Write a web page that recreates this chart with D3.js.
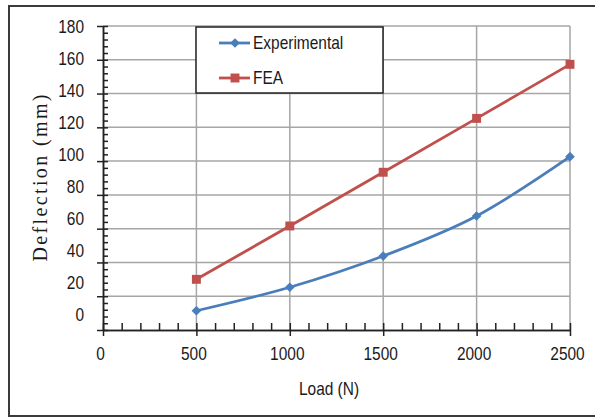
<!DOCTYPE html>
<html>
<head>
<meta charset="utf-8">
<script src="https://cdn.jsdelivr.net/npm/d3@7"></script>
<style>
  body { margin: 0; background: #fff; }
  svg { display: block; }
  .lbl { font-family: "Liberation Sans Narrow", "Arial Narrow", "Liberation Sans", sans-serif; font-size: 18px; fill: #1a1a1a; }
</style>
</head>
<body>
<div id="chart"><svg></svg></div>
<script>
// data
var loads = [500, 1000, 1500, 2000, 2500];
var experimental = [11.4, 25.3, 43.8, 67.5, 102.6];
var fea = [30.0, 61.6, 93.4, 125.3, 157.3];
var seriesNames = ['Experimental', 'FEA'];
var xTicks = [0, 500, 1000, 1500, 2000, 2500];
var yTicks = [0, 20, 40, 60, 80, 100, 120, 140, 160, 180];

var W = 595, H = 417;
var svg = d3.select('#chart').select('svg').attr('width', W).attr('height', H);

var plot = { left: 103, right: 570, top: 26, bottom: 330 };
var squeeze = 0.86; // the labels use a narrow face

var x = d3.scaleLinear().domain([0, 2500]).range([plot.left, plot.right]);
var y = d3.scaleLinear().domain([0, 180]).range([plot.bottom, plot.top]);
// tick labels in the picture drift a bit from the gridlines
var yLab = d3.scaleLinear().domain([0, 180]).range([315, 27]);
var xLab = d3.scaleLinear().domain([0, 2500]).range([plot.left - 3, plot.right - 3]);

// outer frame
svg.append('rect')
  .attr('x', 9).attr('y', 6).attr('width', 600).attr('height', 410)
  .attr('fill', 'none').attr('stroke', '#3a3a3a').attr('stroke-width', 2);

// gridlines
var grid = svg.append('g').attr('stroke', '#a6a6a6').attr('stroke-width', 1.5);
grid.selectAll('line.h').data(yTicks.filter(function(d){ return d > 0; }))
  .enter().append('line').attr('class', 'h')
  .attr('x1', plot.left).attr('x2', plot.right)
  .attr('y1', function(d){ return y(d); }).attr('y2', function(d){ return y(d); });
grid.selectAll('line.v').data(xTicks.filter(function(d){ return d > 0; }))
  .enter().append('line').attr('class', 'v')
  .attr('x1', function(d){ return x(d); }).attr('x2', function(d){ return x(d); })
  .attr('y1', plot.top).attr('y2', plot.bottom);

// axes lines + ticks
var minorY = d3.range(0, 181, 4);
var minorX = d3.range(0, 2501, 100);

function styleAxis(g) {
  g.selectAll('path, line').attr('stroke', '#222').attr('stroke-width', 1.5);
  g.selectAll('text').remove();
}

svg.append('g').attr('transform', 'translate(' + plot.left + ',0)')
  .call(d3.axisRight(y).tickValues(minorY).tickSizeInner(5).tickSizeOuter(0))
  .call(styleAxis);
svg.append('g').attr('transform', 'translate(' + plot.left + ',0)')
  .call(d3.axisLeft(y).tickValues(yTicks).tickSizeInner(6).tickSizeOuter(0))
  .call(styleAxis);

svg.append('g').attr('transform', 'translate(0,' + plot.bottom + ')')
  .call(d3.axisTop(x).tickValues(minorX).tickSizeInner(7).tickSizeOuter(0))
  .call(styleAxis);
svg.append('g').attr('transform', 'translate(0,' + plot.bottom + ')')
  .call(d3.axisBottom(x).tickValues(xTicks).tickSizeInner(6).tickSizeOuter(0))
  .call(styleAxis);

// tick labels
function labelStyle(g) {
  g.select('.domain').remove();
  g.selectAll('text').attr('class', 'lbl')
    .attr('font-size', null).attr('font-family', null).attr('fill', null)
    .attr('transform', 'scale(' + squeeze + ',1)');
}

svg.append('g').attr('transform', 'translate(84,0)')
  .call(d3.axisLeft(yLab).tickValues(yTicks).tickSize(0).tickPadding(0).tickFormat(d3.format('d')))
  .call(labelStyle);

svg.append('g').attr('transform', 'translate(0,347)')
  .call(d3.axisBottom(xLab).tickValues(xTicks).tickSize(0).tickPadding(0).tickFormat(d3.format('d')))
  .call(labelStyle);

// axis titles
svg.append('text').attr('class', 'lbl')
  .attr('transform', 'translate(329,395) scale(' + squeeze + ',1)')
  .attr('text-anchor', 'middle')
  .text('Load (N)');

svg.append('text')
  .attr('transform', 'translate(47,178) rotate(-90)')
  .attr('text-anchor', 'middle')
  .attr('font-family', '"Liberation Serif", "Times New Roman", serif')
  .attr('font-size', 20).attr('fill', '#1a1a1a')
  .attr('textLength', 167).attr('lengthAdjust', 'spacing')
  .text('Deflection (mm)');

// series
var colors = ['#4a7ebb', '#c0504d'];
var series = [experimental, fea];

var line = d3.line()
  .x(function(d, i){ return x(loads[i]); })
  .y(function(d){ return y(d); })
  .curve(d3.curveCatmullRom.alpha(0));

var diamond = d3.symbol().type(d3.symbolDiamond2).size(60);
var square = d3.symbol().type(d3.symbolSquare).size(80);
var shapes = [diamond, square];

series.forEach(function(s, k){
  svg.append('path').datum(s)
    .attr('d', line)
    .attr('fill', 'none')
    .attr('stroke', colors[k])
    .attr('stroke-width', 2.8);
  svg.selectAll('.m' + k).data(s).enter().append('path')
    .attr('class', 'm' + k)
    .attr('transform', function(d, i){ return 'translate(' + x(loads[i]) + ',' + y(d) + ')'; })
    .attr('d', shapes[k]())
    .attr('fill', colors[k]);
});

// legend
var leg = svg.append('g');
leg.append('rect')
  .attr('x', 196).attr('y', 27).attr('width', 187).attr('height', 66)
  .attr('fill', '#fff').attr('stroke', '#222').attr('stroke-width', 1.5);

var legRows = [43, 78];
seriesNames.forEach(function(name, k){
  var row = leg.append('g').attr('transform', 'translate(0,' + legRows[k] + ')');
  row.append('line').attr('x1', 219).attr('x2', 250).attr('y1', 0).attr('y2', 0)
    .attr('stroke', colors[k]).attr('stroke-width', 2.8);
  row.append('path').attr('transform', 'translate(235,0)')
    .attr('d', shapes[k]()).attr('fill', colors[k]);
  row.append('text').attr('class', 'lbl')
    .attr('transform', 'translate(253,6) scale(' + squeeze + ',1)')
    .text(name);
});
</script>
</body>
</html>
